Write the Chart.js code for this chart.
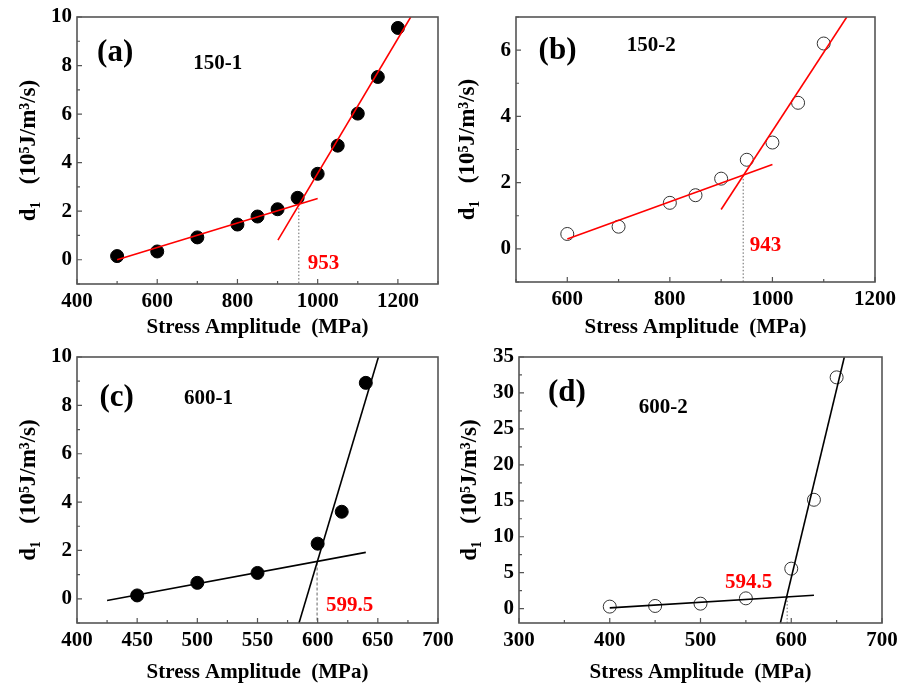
<!DOCTYPE html>
<html>
<head>
<meta charset="utf-8">
<script src="https://cdn.jsdelivr.net/npm/chart.js@4/dist/chart.umd.min.js"></script>
<style>
  body { margin: 0; background: #fff; }
  canvas { position: absolute; }
</style>
</head>
<body>
<canvas id="panelA" width="450" height="340" style="left:0;top:0"></canvas>
<canvas id="panelB" width="449" height="340" style="left:450px;top:0"></canvas>
<canvas id="panelC" width="455" height="345" style="left:0;top:340px"></canvas>
<canvas id="panelD" width="449" height="345" style="left:450px;top:340px"></canvas>
<script>
// (a) 150-1
const aStress = [500, 600, 700, 800, 850, 900, 950, 1000, 1050, 1100, 1150, 1200];
const aD1 = [0.15, 0.34, 0.92, 1.45, 1.78, 2.08, 2.55, 3.54, 4.7, 6.02, 7.53, 9.55];
const aFitLow = [[500, 0], [1000, 2.52]];
const aFitHigh = [[901, 0.81], [1232, 10]];
const aKnee = 953;
const aXTicks = [400, 600, 800, 1000, 1200];
const aYTicks = [0, 2, 4, 6, 8, 10];

// (b) 150-2
const bStress = [600, 700, 800, 850, 900, 950, 1000, 1050, 1100];
const bD1 = [0.45, 0.67, 1.39, 1.62, 2.12, 2.69, 3.21, 4.41, 6.2];
const bFitLow = [[600, 0.3], [1000, 2.55]];
const bFitHigh = [[900, 1.19], [1145, 7]];
const bKnee = 943;
const bXTicks = [600, 800, 1000, 1200];
const bYTicks = [0, 2, 4, 6];

// (c) 600-1
const cStress = [450, 500, 550, 600, 620, 640];
const cD1 = [0.14, 0.66, 1.07, 2.28, 3.6, 8.93];
const cFitLow = [[425, -0.07], [640, 1.92]];
const cFitHigh = [[584.5, -1], [650.5, 10]];
const cKnee = 599.5;
const cXTicks = [400, 450, 500, 550, 600, 650, 700];
const cYTicks = [0, 2, 4, 6, 8, 10];

// (d) 600-2
const dStress = [400, 450, 500, 550, 600, 625, 650];
const dD1 = [0.28, 0.37, 0.69, 1.43, 5.56, 15.14, 32.17];
const dFitLow = [[400, 0.1], [625, 1.85]];
const dFitHigh = [[588, -2], [658.5, 35]];
const dKnee = 595.5;
const dXTicks = [300, 400, 500, 600, 700];
const dYTicks = [0, 5, 10, 15, 20, 25, 30, 35];

const serif = 'Liberation Serif';
const frameColor = '#555';
const redLine = '#ff0000';
const yTitle = 'd\u2081   (10\u2075J/m\u00b3/s)';

// frame box and inward major/minor ticks
const frameTicks = {
  id: 'frameTicks',
  afterDatasetsDraw(chart) {
    const { ctx, chartArea: a, scales: { x, y } } = chart;
    ctx.save();
    ctx.strokeStyle = frameColor;
    ctx.lineWidth = 1.6;
    ctx.strokeRect(a.left, a.top, a.right - a.left, a.bottom - a.top);
    ctx.lineWidth = 1.2;
    ctx.beginPath();
    [x, y].forEach(s => {
      const vals = s.ticks.map(t => t.value);
      const step = vals[1] - vals[0];
      for (let v = vals[0] - step / 2; v <= s.max + 1e-9; v += step / 2) {
        if (v < s.min - 1e-9) continue;
        const len = vals.some(m => Math.abs(m - v) < 1e-9) ? 5 : 3;
        const p = s.getPixelForValue(v);
        if (s === x) {
          ctx.moveTo(p, a.bottom);
          ctx.lineTo(p, a.bottom - len);
        } else {
          ctx.moveTo(a.left, p);
          ctx.lineTo(a.left + len, p);
        }
      }
    });
    ctx.stroke();
    ctx.restore();
  }
};

// text labels placed in data units
function notesPlugin(notes) {
  return {
    id: 'notes',
    afterDatasetsDraw(chart) {
      const { ctx, scales: { x, y } } = chart;
      ctx.save();
      ctx.textBaseline = 'middle';
      ctx.textAlign = 'left';
      notes.forEach(n => {
        ctx.font = 'bold ' + n.size + 'px "' + serif + '"';
        ctx.fillStyle = n.color;
        ctx.fillText(n.text, x.getPixelForValue(n.x), y.getPixelForValue(n.y));
      });
      ctx.restore();
    }
  };
}

const toPts = (xs, ys) => xs.map((v, i) => ({ x: v, y: ys[i] }));
const pairPts = arr => arr.map(p => ({ x: p[0], y: p[1] }));

function makePanel(id, p) {
  const font = { family: serif, size: 21, weight: 'bold' };
  const lineStyle = { showLine: true, pointRadius: 0, borderColor: p.lineColor, borderWidth: 1.6, order: 0 };
  return new Chart(document.getElementById(id), {
    type: 'scatter',
    data: {
      datasets: [
        Object.assign({ data: pairPts(p.fitLow) }, lineStyle),
        Object.assign({ data: pairPts(p.fitHigh) }, lineStyle),
        {
          data: [{ x: p.knee, y: p.kneeY }, { x: p.knee, y: p.yMin }],
          showLine: true, pointRadius: 0, borderColor: '#666', borderWidth: 1,
          borderDash: p.dash, order: 0
        },
        {
          data: toPts(p.xs, p.ys),
          pointRadius: 6.5,
          pointBackgroundColor: p.filled ? '#000' : 'rgba(0,0,0,0)',
          pointBorderColor: p.filled ? '#000' : '#333',
          pointBorderWidth: 1,
          order: 1
        }
      ]
    },
    options: {
      responsive: false,
      animation: false,
      devicePixelRatio: 1,
      events: [],
      layout: { padding: { left: p.padLeft, top: p.padTop, right: p.padRight, bottom: 0 } },
      plugins: { legend: { display: false }, tooltip: { enabled: false } },
      scales: {
        x: {
          type: 'linear', min: p.xMin, max: p.xMax,
          afterBuildTicks: s => { s.ticks = p.xTicks.map(v => ({ value: v })); },
          afterFit: s => { s.height = p.xAxisH; s.paddingLeft = 0; s.paddingRight = 0; },
          grid: { display: false, drawTicks: false },
          border: { display: false },
          ticks: { font, color: '#000', padding: 5, maxRotation: 0, autoSkip: false, callback: v => String(v) },
          title: { display: true, text: 'Stress Amplitude  (MPa)', font, color: '#000', padding: 0 }
        },
        y: {
          type: 'linear', min: p.yMin, max: p.yMax,
          afterBuildTicks: s => { s.ticks = p.yTicks.map(v => ({ value: v })); },
          afterFit: s => { s.width = p.yAxisW; s.paddingTop = 0; s.paddingBottom = 0; },
          grid: { display: false, drawTicks: false },
          border: { display: false },
          ticks: { font, color: '#000', padding: 5, autoSkip: false, callback: v => String(v) },
          title: { display: true, text: yTitle, font: { family: serif, size: 23, weight: 'bold' }, color: '#000', padding: 0 }
        }
      }
    },
    plugins: [frameTicks, notesPlugin(p.notes)]
  });
}

makePanel('panelA', {
  xs: aStress, ys: aD1, fitLow: aFitLow, fitHigh: aFitHigh, knee: aKnee, kneeY: 2.27,
  xTicks: aXTicks, yTicks: aYTicks, xMin: 400, xMax: 1300, yMin: -1, yMax: 10,
  filled: true, lineColor: redLine, dash: [1.5, 2],
  padLeft: 15, padTop: 17, padRight: 12, yAxisW: 62, xAxisH: 56,
  notes: [
    { text: '(a)', x: 450, y: 8.5, size: 31, color: '#000' },
    { text: '150-1', x: 690, y: 8.1, size: 21, color: '#000' },
    { text: '953', x: 975, y: -0.17, size: 21, color: '#ff0000' }
  ]
});

makePanel('panelB', {
  xs: bStress, ys: bD1, fitLow: bFitLow, fitHigh: bFitHigh, knee: bKnee, kneeY: 2.22,
  xTicks: bXTicks, yTicks: bYTicks, xMin: 500, xMax: 1200, yMin: -1, yMax: 7,
  filled: false, lineColor: redLine, dash: [1.5, 2],
  padLeft: 4, padTop: 17, padRight: 24, yAxisW: 62, xAxisH: 58,
  notes: [
    { text: '(b)', x: 544, y: 5.97, size: 31, color: '#000' },
    { text: '150-2', x: 716, y: 6.14, size: 21, color: '#000' },
    { text: '943', x: 956, y: 0.09, size: 21, color: '#ff0000' }
  ]
});

makePanel('panelC', {
  xs: cStress, ys: cD1, fitLow: cFitLow, fitHigh: cFitHigh, knee: cKnee, kneeY: 1.5,
  xTicks: cXTicks, yTicks: cYTicks, xMin: 400, xMax: 700, yMin: -1, yMax: 10,
  filled: true, lineColor: '#000', dash: [3, 2],
  padLeft: 15, padTop: 17, padRight: 17, yAxisW: 62, xAxisH: 62,
  notes: [
    { text: '(c)', x: 418.6, y: 8.32, size: 31, color: '#000' },
    { text: '600-1', x: 489, y: 8.28, size: 21, color: '#000' },
    { text: '599.5', x: 607, y: -0.26, size: 21, color: '#ff0000' }
  ]
});

makePanel('panelD', {
  xs: dStress, ys: dD1, fitLow: dFitLow, fitHigh: dFitHigh, knee: dKnee, kneeY: 1.6,
  xTicks: dXTicks, yTicks: dYTicks, xMin: 300, xMax: 700, yMin: -2, yMax: 35,
  filled: false, lineColor: '#000', dash: [1.5, 2],
  padLeft: 6, padTop: 17, padRight: 17, yAxisW: 63, xAxisH: 62,
  notes: [
    { text: '(d)', x: 332, y: 30, size: 31, color: '#000' },
    { text: '600-2', x: 432, y: 28, size: 21, color: '#000' },
    { text: '594.5', x: 527, y: 3.6, size: 21, color: '#ff0000' }
  ]
});
</script>
</body>
</html>
